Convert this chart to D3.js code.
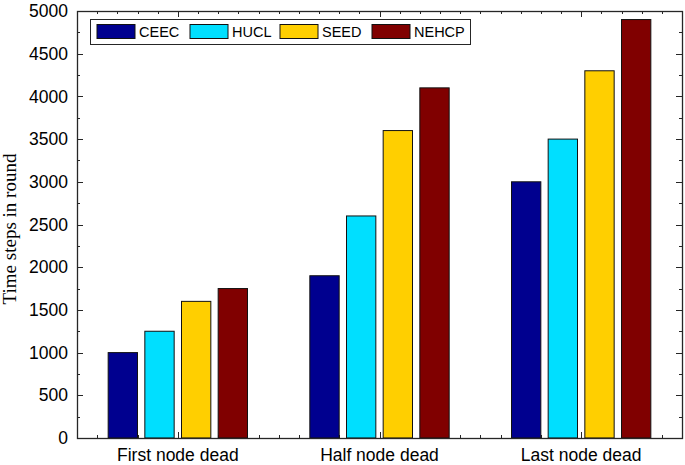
<!DOCTYPE html>
<html>
<head>
<meta charset="utf-8">
<script src="https://cdn.jsdelivr.net/npm/d3@7"></script>
<style>
  html, body { margin: 0; padding: 0; background: #fff; }
  svg { display: block; }
  .tickLabel { font-family: "Liberation Sans", Arial, sans-serif; font-size: 17.5px; fill: #000; }
  .legendText { font-family: "Liberation Sans", Arial, sans-serif; font-size: 14.5px; fill: #000; }
  .yTitle { font-family: "Liberation Serif", "Times New Roman", serif; font-size: 19px; fill: #000; }
</style>
</head>
<body>
<div id="chart"></div>
<script>
var categories = ['First node dead', 'Half node dead', 'Last node dead'];
var seriesNames = ['CEEC', 'HUCL', 'SEED', 'NEHCP'];
var CEEC = [1000, 1900, 3000];
var HUCL = [1250, 2600, 3500];
var SEED = [1600, 3600, 4300];
var NEHCP = [1750, 4100, 4900];
var yTicks = [0, 500, 1000, 1500, 2000, 2500, 3000, 3500, 4000, 4500, 5000];

var seriesValues = [CEEC, HUCL, SEED, NEHCP];
var colors = ['#00008f', '#00dfff', '#ffcf00', '#800000'];

var width = 685, height = 465;
var margin = { top: 11, right: 3, bottom: 27, left: 77 };
var plotW = width - margin.left - margin.right;
var plotH = height - margin.top - margin.bottom;
var axisColor = '#262626';

var svg = d3.select('#chart').append('svg')
    .attr('width', width)
    .attr('height', height);

// x in category units, like a matlab bar plot: 1..n with 0.5 padding
var xScale = d3.scaleLinear().domain([0.5, categories.length + 0.5]).range([0, plotW]);
var yScale = d3.scaleLinear().domain([0, 5000]).range([plotH, 0]);

var g = svg.append('g').attr('transform', 'translate(' + margin.left + ',' + margin.top + ')');

// minor/major ticks, pointing inward on all four sides
var xMinor = d3.range(6, categories.length * 10 + 5).map(function (d) { return d / 10; });
var yMinor = d3.range(0, 5001, 250);
var ticks = g.append('g').attr('class', 'ticks').attr('stroke', axisColor).attr('stroke-width', 1);

xMinor.forEach(function (v) {
    var major = Math.abs(v - Math.round(v)) < 1e-6;
    var len = major ? 6 : 3;
    var x = Math.round(xScale(v)) + 0.5;
    ticks.append('line').attr('x1', x).attr('x2', x).attr('y1', plotH).attr('y2', plotH - len);
    ticks.append('line').attr('x1', x).attr('x2', x).attr('y1', 0).attr('y2', len);
});
yMinor.forEach(function (v) {
    var major = v % 500 === 0;
    var len = major ? 6 : 3;
    var y = Math.round(yScale(v)) + 0.5;
    ticks.append('line').attr('x1', 0).attr('x2', len).attr('y1', y).attr('y2', y);
    ticks.append('line').attr('x1', plotW).attr('x2', plotW - len).attr('y1', y).attr('y2', y);
});

// bars
var n = seriesNames.length;
var groupWidth = Math.min(0.8, n / (n + 1.5));
var step = groupWidth / n;
var barW = step * 0.8;

seriesValues.forEach(function (vals, s) {
    var offset = (s - (n - 1) / 2) * step;
    g.append('g').attr('class', 'series')
        .selectAll('rect').data(vals).enter().append('rect')
        .attr('x', function (d, i) { return xScale(i + 1 + offset - barW / 2); })
        .attr('width', function () { return xScale(barW) - xScale(0); })
        .attr('y', function (d) { return yScale(d); })
        .attr('height', function (d) { return plotH - yScale(d); })
        .attr('fill', colors[s])
        .attr('stroke', '#111')
        .attr('stroke-width', 1);
});

// box
g.append('rect')
    .attr('x', 0.5).attr('y', 0.5)
    .attr('width', plotW).attr('height', plotH)
    .attr('fill', 'none')
    .attr('stroke', axisColor)
    .attr('stroke-width', 1.3);

// y tick labels
g.append('g').selectAll('text').data(yTicks).enter().append('text')
    .attr('class', 'tickLabel')
    .attr('x', -9)
    .attr('y', function (d) { return yScale(d); })
    .attr('dy', '0.35em')
    .attr('text-anchor', 'end')
    .text(function (d) { return d; });

// x category labels
g.append('g').selectAll('text').data(categories).enter().append('text')
    .attr('class', 'tickLabel')
    .attr('x', function (d, i) { return xScale(i + 1); })
    .attr('y', plotH + 23)
    .attr('text-anchor', 'middle')
    .text(function (d) { return d; });

// y title
svg.append('text')
    .attr('class', 'yTitle')
    .attr('transform', 'translate(16,229) rotate(-90)')
    .attr('text-anchor', 'middle')
    .text('Time steps in round');

// legend
var legend = svg.append('g').attr('class', 'legend').attr('transform', 'translate(90.5,19.5)');
legend.append('rect')
    .attr('width', 380).attr('height', 25)
    .attr('fill', '#fff')
    .attr('stroke', axisColor)
    .attr('stroke-width', 1);
var legendX = [6.5, 99.5, 189.5, 281.5];
seriesNames.forEach(function (name, i) {
    legend.append('rect')
        .attr('x', legendX[i]).attr('y', 5)
        .attr('width', 38).attr('height', 14)
        .attr('fill', colors[i])
        .attr('stroke', '#111')
        .attr('stroke-width', 1);
    legend.append('text')
        .attr('class', 'legendText')
        .attr('x', legendX[i] + 42)
        .attr('y', 12.5)
        .attr('dy', '0.36em')
        .text(name);
});
</script>
</body>
</html>
